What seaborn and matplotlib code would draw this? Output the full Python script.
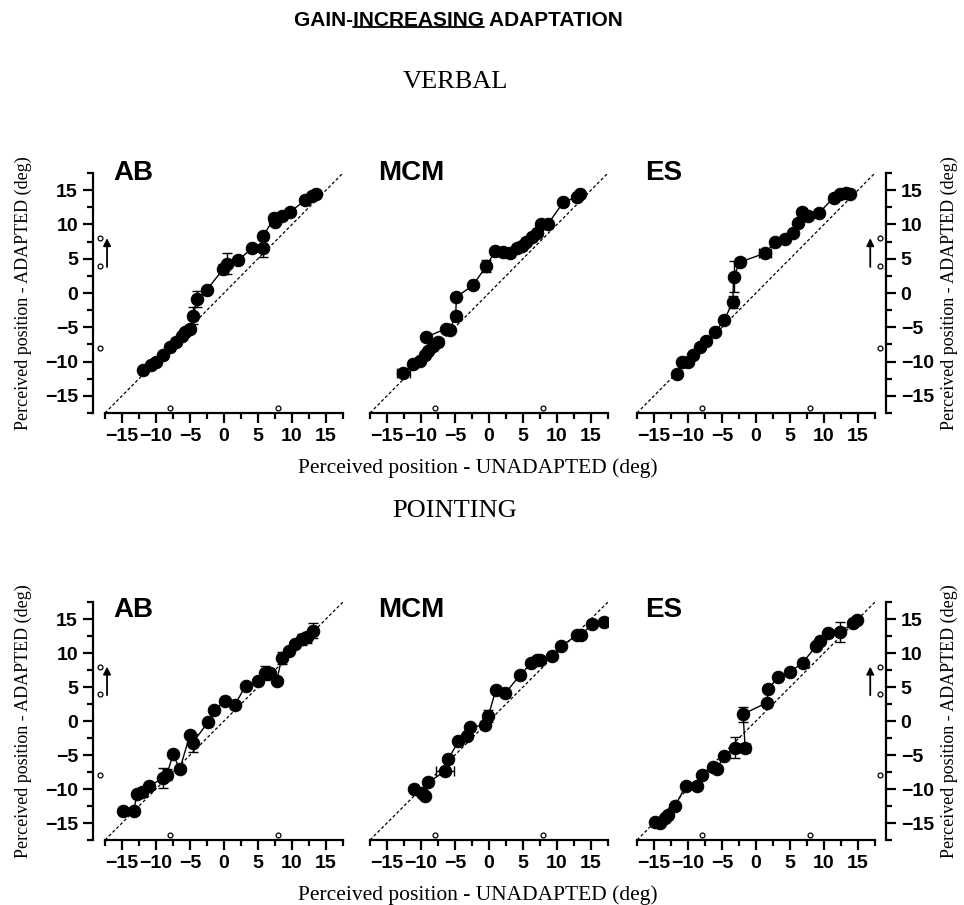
import matplotlib.pyplot as plt
import seaborn as sns
from matplotlib.lines import Line2D
from matplotlib.ticker import MultipleLocator

# Values (deg). Order follows the connecting line.
verbal_ab_x = [-11.9, -10.7, -10.0, -8.9, -7.9, -7.0, -6.2, -5.7, -5.0, -4.5, -4.0, -2.5, -0.1,
               0.4, 2.1, 4.1, 5.8, 5.8, 7.3, 7.5, 8.5, 9.7, 11.9, 12.9, 13.6]
verbal_ab_y = [-11.3, -10.5, -10.0, -9.1, -7.9, -7.2, -6.2, -5.7, -5.2, -3.3, -0.85, 0.5, 3.5,
               4.3, 4.8, 6.5, 6.5, 8.3, 10.9, 10.4, 11.3, 11.8, 13.5, 14.1, 14.5]
verbal_ab_yerr = [0.3, 0.3, 0.3, 0.3, 0.3, 0.3, 0.3, 0.3, 0.3, 1.2, 1.2, 0.3, 0.8,
                  1.6, 0.6, 0.3, 1.3, 0.4, 0.6, 0.3, 0.3, 0.3, 0.3, 0.3, 0.3]
verbal_ab_xerr = [0.0] * 25

verbal_mcm_x = [-12.6, -11.2, -10.2, -9.4, -8.9, -8.2, -7.5, -9.2, -6.3, -5.8, -4.9, -4.8, -2.4, -0.4,
                0.9, 2.1, 3.1, 4.1, 4.8, 5.5, 6.3, 7.0, 7.7, 8.7, 10.9, 12.9, 13.4]
verbal_mcm_y = [-11.6, -10.4, -9.9, -9.1, -8.4, -7.7, -7.2, -6.4, -5.2, -5.4, -3.4, -0.6, 1.1, 3.9,
                6.1, 6.0, 5.8, 6.5, 6.9, 7.4, 8.2, 8.7, 10.1, 10.1, 13.2, 14.0, 14.5]
verbal_mcm_yerr = [0.3, 0.3, 0.3, 0.3, 0.3, 0.3, 0.3, 0.3, 0.3, 0.3, 0.7, 0.3, 0.3, 0.9,
                   0.5, 0.3, 0.3, 0.3, 0.3, 0.3, 0.3, 0.3, 0.3, 0.3, 0.3, 0.3, 0.3]
verbal_mcm_xerr = [1.0] + [0.0] * 26

verbal_es_x = [-11.6, -10.9, -9.95, -9.2, -8.2, -7.3, -6.0, -4.7, -3.4, -3.3, -2.35, 1.3,
               2.8, 4.3, 5.5, 6.2, 6.7, 7.7, 9.2, 11.4, 12.4, 13.3, 13.8]
verbal_es_y = [-11.8, -10.1, -10.1, -9.1, -7.9, -6.95, -5.7, -4.0, -1.3, 2.4, 4.5, 5.8,
               7.4, 7.9, 8.8, 10.2, 11.8, 11.3, 11.6, 13.9, 14.5, 14.6, 14.5]
verbal_es_yerr = [0.3, 0.3, 0.3, 0.3, 0.3, 0.3, 0.3, 0.3, 0.9, 2.2, 0.6, 0.3,
                  0.3, 0.3, 0.3, 0.3, 0.3, 0.3, 0.3, 0.3, 0.3, 0.3, 0.3]
verbal_es_xerr = [0.0] * 11 + [0.9] + [0.0] * 11

pointing_ab_x = [-14.8, -13.3, -12.8, -12.1, -11.1, -8.9, -8.4, -7.5, -6.5, -5.0, -4.6, -2.3, -1.4,
                 0.15, 1.6, 3.2, 5.05, 6.0, 6.8, 7.75, 8.5, 9.5, 10.4, 11.4, 12.2, 13.1]
pointing_ab_y = [-13.3, -13.3, -10.8, -10.5, -9.6, -8.4, -7.9, -4.9, -7.1, -2.0, -3.2, -0.1, 1.6,
                 3.0, 2.4, 5.2, 5.9, 7.1, 7.1, 5.9, 9.3, 10.3, 11.3, 12.0, 12.3, 13.3]
pointing_ab_yerr = [0.3, 0.3, 0.3, 0.3, 0.3, 1.5, 0.8, 0.3, 0.3, 0.3, 1.3, 0.3, 0.3,
                    0.3, 0.6, 0.3, 0.3, 1.0, 0.3, 0.3, 0.9, 0.3, 0.3, 0.8, 0.8, 1.1]
pointing_ab_xerr = [0.0] * 26

pointing_mcm_x = [-11.1, -9.9, -9.4, -8.9, -6.5, -6.0, -4.5, -3.3, -2.8, -0.6, -0.1, 1.0,
                  2.4, 4.6, 6.2, 7.0, 7.5, 9.2, 10.6, 12.9, 13.5, 15.2, 16.9]
pointing_mcm_y = [-10.0, -10.6, -11.1, -9.0, -7.4, -5.6, -3.0, -2.2, -0.9, -0.6, 0.7, 4.6,
                  4.1, 6.8, 8.5, 8.9, 9.0, 9.5, 11.0, 12.6, 12.6, 14.3, 14.5]
pointing_mcm_yerr = [0.3] * 10 + [0.9] + [0.3] * 12
pointing_mcm_xerr = [0.0] * 4 + [1.3] + [0.0] * 18

pointing_es_x = [-14.85, -14.1, -13.4, -12.9, -11.9, -10.3, -8.7, -7.9, -6.3, -5.8, -4.7, -3.1, -1.6,
                 -1.9, 1.6, 1.8, 3.3, 5.0, 6.9, 8.8, 9.4, 10.6, 12.4, 14.3, 14.9]
pointing_es_y = [-14.8, -15.0, -14.3, -13.8, -12.5, -9.5, -9.6, -8.0, -6.7, -7.1, -5.2, -3.9, -3.9,
                 1.0, 2.7, 4.7, 6.5, 7.2, 8.6, 11.0, 11.8, 12.9, 13.1, 14.4, 14.8]
pointing_es_yerr = [0.3, 0.3, 0.3, 0.3, 0.3, 0.3, 0.3, 0.3, 0.3, 0.3, 0.3, 1.5, 0.5,
                    1.1, 0.6, 0.3, 0.3, 0.3, 0.3, 0.3, 0.3, 0.3, 1.5, 0.3, 0.3]
pointing_es_xerr = [0.0] * 12 + [0.7] + [0.0] * 12

# target markers drawn along the axes
target_y = [8, 4, -8]
target_x = [-8, 8]
arrow_from, arrow_to = 3.8, 8.0

subjects = ["AB", "MCM", "ES"]
rows = [
    ("VERBAL", [(verbal_ab_x, verbal_ab_y, verbal_ab_yerr, verbal_ab_xerr),
                (verbal_mcm_x, verbal_mcm_y, verbal_mcm_yerr, verbal_mcm_xerr),
                (verbal_es_x, verbal_es_y, verbal_es_yerr, verbal_es_xerr)]),
    ("POINTING", [(pointing_ab_x, pointing_ab_y, pointing_ab_yerr, pointing_ab_xerr),
                  (pointing_mcm_x, pointing_mcm_y, pointing_mcm_yerr, pointing_mcm_xerr),
                  (pointing_es_x, pointing_es_y, pointing_es_yerr, pointing_es_xerr)]),
]

sns.set_theme(style="ticks")
plt.rcParams["font.family"] = ["Liberation Sans", "DejaVu Sans"]
plt.rcParams["font.weight"] = "bold"
plt.rcParams["text.color"] = "black"
plt.rcParams["axes.edgecolor"] = "black"
plt.rcParams["xtick.color"] = "black"
plt.rcParams["ytick.color"] = "black"

W, H = 964, 905
LIM = 17.5
fig = plt.figure(figsize=(W / 100, H / 100), dpi=100)

col_left = [105, 370, 637]
row_span = [(173, 413), (602, 840)]
serif = ["Liberation Serif", "DejaVu Serif"]


def fx(px):
    return px / W


def fy(px):
    return 1 - px / H


for r, (mode, panels) in enumerate(rows):
    top, bottom = row_span[r]
    for c, (x, y, yerr, xerr) in enumerate(panels):
        ax = fig.add_axes([fx(col_left[c]), fy(bottom), 238 / W, (bottom - top) / H])
        ax.set_xlim(-LIM, LIM)
        ax.set_ylim(-LIM, LIM)

        ax.plot([-LIM, LIM], [-LIM, LIM], ls=(0, (2.5, 1.8)), color="black", lw=0.9)
        ax.errorbar(x, y, yerr=yerr, xerr=xerr, fmt="none", ecolor="black",
                    elinewidth=1, capsize=3.5, capthick=1)
        sns.lineplot(x=x, y=y, sort=False, estimator=None, color="black", lw=1,
                     marker="o", markersize=9, markeredgecolor="black", ax=ax)

        ax.xaxis.set_major_locator(MultipleLocator(5))
        ax.xaxis.set_minor_locator(MultipleLocator(2.5))
        ax.yaxis.set_major_locator(MultipleLocator(5))
        ax.yaxis.set_minor_locator(MultipleLocator(2.5))
        ax.tick_params(which="major", direction="out", length=7, width=1.6, labelsize=14)
        ax.tick_params(which="minor", direction="out", length=4, width=1.6)

        # open circles for the targets + arrow showing the shift
        ax.plot(target_x, [-16.8] * len(target_x), "o", ms=3.5, mfc="white",
                mec="black", mew=0.9, clip_on=False)
        if c == 0:
            sns.despine(ax=ax, offset={"left": 9})
            cx, ax_x = -18.2, -17.2
        elif c == 2:
            sns.despine(ax=ax, left=True, right=False, offset={"right": 8})
            ax.yaxis.tick_right()
            ax.tick_params(axis="y", which="both", left=False, right=True)
            cx, ax_x = 18.2, 16.8
        else:
            sns.despine(ax=ax, left=True)
            ax.tick_params(axis="y", which="both", left=False, labelleft=False)
            cx = None
        if cx is not None:
            ax.plot([cx] * len(target_y), target_y, "o", ms=3.5, mfc="white",
                    mec="black", mew=0.9, clip_on=False)
            ax.annotate("", xy=(ax_x, arrow_to), xytext=(ax_x, arrow_from),
                        arrowprops=dict(arrowstyle="-|>", color="black", lw=1.3,
                                        mutation_scale=11, shrinkA=0, shrinkB=0),
                        annotation_clip=False)
        for sp in ax.spines.values():
            sp.set_linewidth(1.6)

        label_y = 1.0 if r == 0 else 0.965
        ax.text(0.035, label_y, subjects[c], transform=ax.transAxes, fontsize=20,
                fontweight="bold", va="center", ha="left")

    mid = (top + bottom) / 2
    fig.text(fx(23), fy(mid), "Perceived position - ADAPTED (deg)", rotation=90,
             ha="center", va="center", fontsize=13, family=serif, fontweight="normal")
    fig.text(fx(949), fy(mid), "Perceived position - ADAPTED (deg)", rotation=90,
             ha="center", va="center", fontsize=13, family=serif, fontweight="normal")
    fig.text(fx(478), fy(bottom + 55), "Perceived position - UNADAPTED (deg)",
             ha="center", va="center", fontsize=15.5, family=serif, fontweight="normal")
    fig.text(fx(455), fy(top - 91), mode, ha="center", va="center",
             fontsize=19, family=serif, fontweight="normal")

# main heading with "INCREASING" underlined
title_kw = dict(fontsize=15, fontweight="bold", va="center")
heading = fig.text(fx(458), fy(20), "GAIN-INCREASING ADAPTATION", ha="center", **title_kw)
fig.canvas.draw()
rend = fig.canvas.get_renderer()
bb = heading.get_window_extent(rend)
probe = fig.text(0, 0, "GAIN-", ha="left", **title_kw)
w1 = probe.get_window_extent(rend).width
probe.set_text("GAIN-INCREASING")
w2 = probe.get_window_extent(rend).width
probe.remove()
uy = (bb.y0 + 2) / H
fig.add_artist(Line2D([(bb.x0 + w1) / W, (bb.x0 + w2) / W], [uy, uy],
                      transform=fig.transFigure, color="black", lw=1.3))

fig.savefig("out.png", dpi=100)
